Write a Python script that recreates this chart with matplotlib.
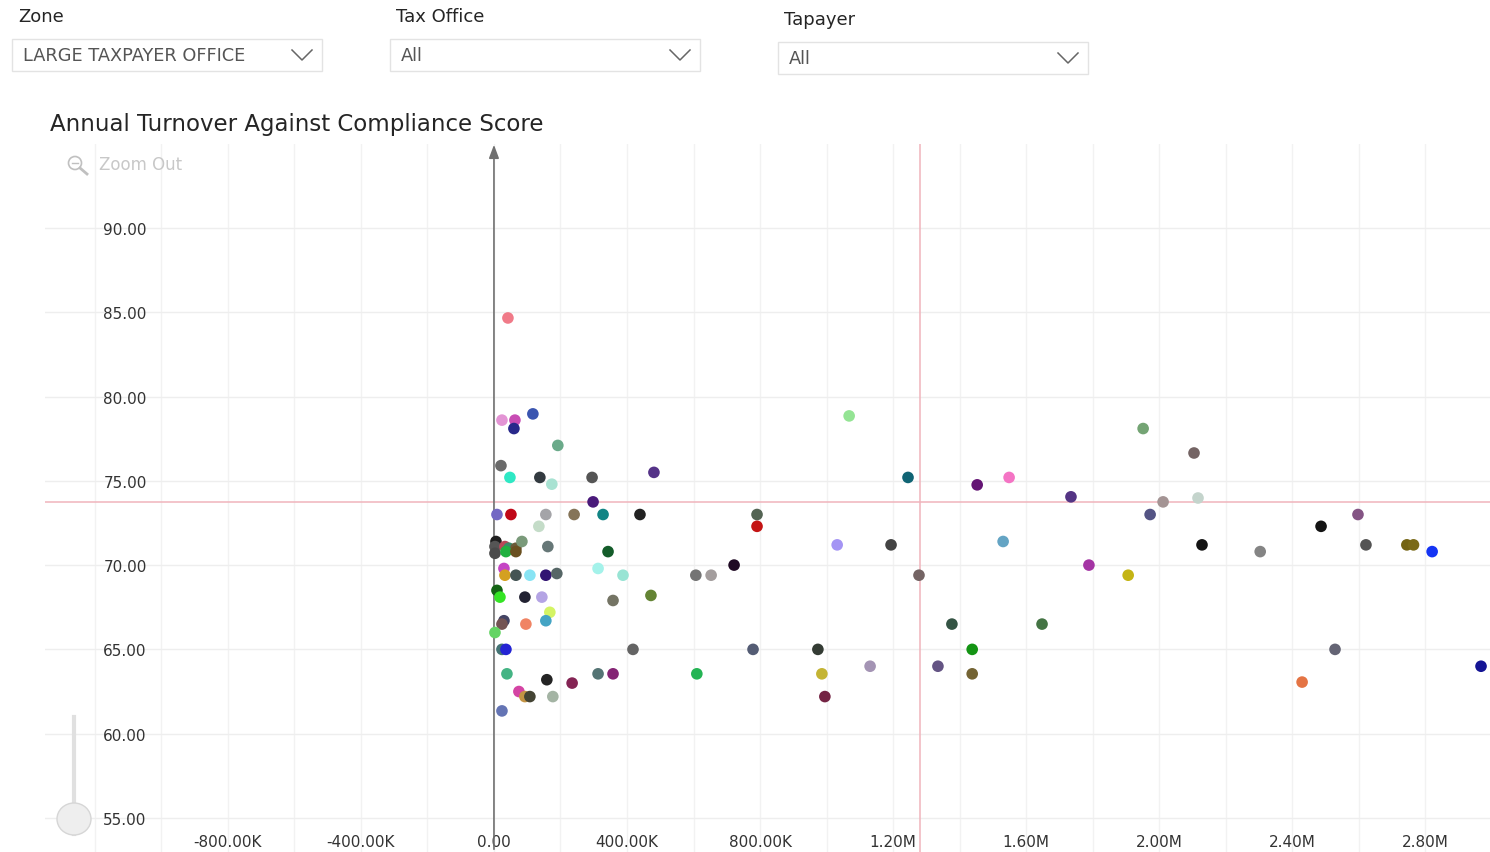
import matplotlib
matplotlib.use("Agg")
import matplotlib.pyplot as plt
from matplotlib.lines import Line2D
from matplotlib.patches import Rectangle, Ellipse
from matplotlib.ticker import FixedLocator, FixedFormatter, MultipleLocator

W, H = 1490, 853

# ---------------- data ----------------
turnover_k = [42, 24, 63, 60, 117, 192, 21, 48, 138, 174, 295, 481, 298, 9, 51, 156, 241, 328, 439, 135,
              6, 3, 3, 33, 45, 66, 84, 36, 66, 162, 343, 30, 33, 66, 108, 156, 189, 313, 388, 9,
              18, 93, 144, 168, 156, 96, 30, 24, 3, 358, 472, 24, 36, 418, 39, 159, 235, 313, 358, 75,
              93, 108, 177, 24, 1068, 1245, 1453, 1549, 1735, 791, 791, 1032, 1194, 1531, 722, 607, 653, 1278, 1377, 1648,
              779, 974, 1438, 1131, 1335, 610, 986, 1438, 995, 1952, 2105, 2012, 2117, 1973, 1789, 1907, 2129, 2304, 2487, 2598,
              2622, 2745, 2765, 2821, 2529, 2430, 2968]
score = [84.66, 78.6, 78.6, 78.1, 78.97, 77.1, 75.9, 75.2, 75.2, 74.8, 75.2, 75.5, 73.75, 73.0, 73.0, 73.0, 73.0, 73.0, 73.0, 72.3,
         71.4, 71.1, 70.7, 71.1, 71.0, 71.0, 71.4, 70.8, 70.8, 71.1, 70.8, 69.8, 69.4, 69.4, 69.4, 69.4, 69.5, 69.8, 69.4, 68.5,
         68.1, 68.1, 68.1, 67.2, 66.7, 66.5, 66.7, 66.5, 66.0, 67.9, 68.2, 65.0, 65.0, 65.0, 63.55, 63.2, 63.0, 63.55, 63.55, 62.5,
         62.2, 62.2, 62.2, 61.35, 78.85, 75.2, 74.76, 75.2, 74.05, 73.0, 72.3, 71.2, 71.2, 71.4, 70.0, 69.4, 69.4, 69.4, 66.5, 66.5,
         65.0, 65.0, 65.0, 64.0, 64.0, 63.55, 63.55, 63.55, 62.2, 78.1, 76.65, 73.75, 73.98, 73.0, 70.0, 69.4, 71.2, 70.8, 72.3, 73.0,
         71.2, 71.2, 71.2, 70.8, 65.0, 63.06, 64.0]
point_colors = ["#f07a88", "#e394d4", "#c84cb4", "#28288a", "#3a55b0", "#6aaa8a", "#6a6a6a", "#2ee8c4", "#333a40", "#a8e2d2",
                "#555555", "#553388", "#4a1a7a", "#7468c4", "#c00818", "#a4a4a8", "#857458", "#128484", "#222222", "#c4dcc8",
                "#1e1e1e", "#555555", "#4a4a4a", "#b84858", "#3a8a6a", "#6a5a38", "#7a9a7a", "#20b040", "#6a5020", "#667777",
                "#145c2a", "#c444c4", "#d4a020", "#445454", "#88e4f4", "#321472", "#566666", "#a4f2ea", "#98e4d4", "#146414",
                "#34e424", "#222232", "#b4a4e4", "#d4f464", "#44a4c4", "#f08464", "#444464", "#745454", "#64d464", "#747464",
                "#648434", "#447474", "#2424d4", "#646464", "#44b484", "#242424", "#842454", "#547474", "#842474", "#d444a4",
                "#c49444", "#444434", "#a4b4a4", "#6474b4", "#94e494", "#106474", "#641474", "#f474c4", "#543484", "#546454",
                "#c41414", "#a494f4", "#444444", "#64a4c4", "#200a24", "#747474", "#a49e9e", "#746464", "#345444", "#447444",
                "#545c74", "#343c34", "#149414", "#a494b4", "#645484", "#24b454", "#c4b434", "#746434", "#742444", "#74a474",
                "#746464", "#a49494", "#c4d4cc", "#545484", "#a434a4", "#c4b414", "#141414", "#848484", "#141414", "#845484",
                "#545454", "#746414", "#7a6a18", "#1434f4", "#646474", "#e47444", "#141494"]
turnover = [v * 1000 for v in turnover_k]

avg_turnover = 1281000
avg_score = 73.75

x_ticks = [-800000, -400000, 0, 400000, 800000, 1200000, 1600000, 2000000, 2400000, 2800000]
x_tick_labels = ["-800.00K", "-400.00K", "0.00", "400.00K", "800.00K", "1.20M", "1.60M", "2.00M", "2.40M", "2.80M"]
y_ticks = [55, 60, 65, 70, 75, 80, 85, 90]
y_tick_labels = ["55.00", "60.00", "65.00", "70.00", "75.00", "80.00", "85.00", "90.00"]

title = "Annual Turnover Against Compliance Score"
filters = [("Zone", "LARGE TAXPAYER OFFICE"), ("Tax Office", "All"), ("Tapayer", "All")]

# ---------------- figure ----------------
plt.rcParams['font.family'] = ['DejaVu Sans']
fig = plt.figure(figsize=(W / 100, H / 100), dpi=100)
fig.patch.set_facecolor("white")


def fx(x):
    return x / W


def fy(y):
    return 1 - y / H


# plot area (pixels)
L, R, T, B = 45, 1490, 145, 853
ax = fig.add_axes([fx(L), fy(B), fx(R - L), (B - T) / H])
ax.set_xlim(-1350000, 2995000)
ax.set_ylim(52.98, 94.98)
for s in ax.spines.values():
    s.set_visible(False)

ax.xaxis.set_major_locator(FixedLocator(x_ticks))
ax.xaxis.set_major_formatter(FixedFormatter(x_tick_labels))
ax.xaxis.set_minor_locator(MultipleLocator(200000))
ax.yaxis.set_major_locator(FixedLocator(y_ticks))
ax.yaxis.set_major_formatter(FixedFormatter(y_tick_labels))
ax.grid(True, which="both", axis="x", color="#f2f2f2", lw=1)
ax.grid(True, which="major", axis="y", color="#eeeeee", lw=1)
ax.set_axisbelow(True)
ax.tick_params(axis="both", which="both", length=0)
ax.tick_params(axis="x", pad=-13, labelsize=11, labelcolor="#333333")
ax.tick_params(axis="y", pad=-42, labelsize=11, labelcolor="#333333")
for lab in ax.get_yticklabels():
    lab.set_horizontalalignment("left")

# reference lines
ax.axvline(avg_turnover, color="#f0b4bc", lw=1.1, zorder=1)
ax.axhline(avg_score, color="#f0b4bc", lw=1.1, zorder=1)

# zero axis with arrow
ax.annotate("", xy=(0, 95.1), xytext=(0, 52.98),
            arrowprops=dict(arrowstyle="-|>,head_length=0.8,head_width=0.3", color="#707070", lw=1.2),
            annotation_clip=False, zorder=2)

ax.scatter(turnover, score, s=70, c=point_colors, edgecolors="none", zorder=3)

# ---------------- header / slicers ----------------
box_pos = [(12, 40), (390, 40), (778, 43)]
for (lbl, val), (bx, by) in zip(filters, box_pos):
    fig.text(fx(bx + 6), fy(by - 23), lbl, fontsize=13, color="#252525", va="center", ha="left")
    fig.patches.append(Rectangle((fx(bx), fy(by + 32)), fx(310), 32 / H, transform=fig.transFigure,
                                 facecolor="white", edgecolor="#e3e3e3", lw=1))
    fig.text(fx(bx + 11), fy(by + 16), val, fontsize=12.8, color="#555555", va="center", ha="left")
    cx = bx + 290
    cy = by + 16
    fig.lines.append(Line2D([fx(cx - 10), fx(cx), fx(cx + 10)], [fy(cy - 5), fy(cy + 5), fy(cy - 5)],
                            transform=fig.transFigure, color="#666666", lw=1.1))

fig.text(fx(50), fy(125), title, fontsize=16.5, color="#252525", va="center", ha="left")

# zoom out hint
fig.patches.append(Ellipse((fx(75), fy(164)), 13 / W, 13 / H, transform=fig.transFigure, facecolor="none",
                           edgecolor="#c0c0c0", lw=1.2))
fig.lines.append(Line2D([fx(80), fx(87)], [fy(169), fy(175)], transform=fig.transFigure, color="#c0c0c0", lw=2))
fig.lines.append(Line2D([fx(72), fx(78)], [fy(164), fy(164)], transform=fig.transFigure, color="#c0c0c0", lw=1))
fig.text(fx(99), fy(165), "Zoom Out", fontsize=12, color="#c8c8c8", va="center", ha="left")

# slider
fig.lines.append(Line2D([fx(74), fx(74)], [fy(718), fy(835)], transform=fig.transFigure, color="#e0e0e0", lw=3))
fig.patches.append(Ellipse((fx(74), fy(820)), 34 / W, 32 / H, transform=fig.transFigure, facecolor="#eeeeee",
                           edgecolor="#d6d6d6", lw=1, zorder=5))

fig.savefig("out.png", dpi=100, facecolor="white")
